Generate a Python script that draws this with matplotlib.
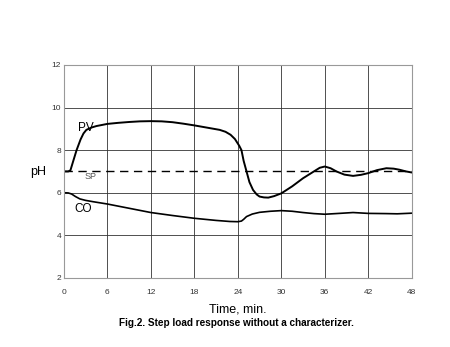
import matplotlib.pyplot as plt

plt.rcParams['font.family'] = ['Liberation Sans', 'DejaVu Sans']

# process variable (pH) vs time
pv_t = [0, 0.6, 0.9, 1.3, 1.75, 2.3, 2.7, 3.1, 3.8, 4.5, 6, 7.5, 9, 10.5, 12, 13.5, 15,
        16.5, 18, 19, 20, 21.5, 22.3, 23, 23.6, 24.2, 24.5, 24.8, 25.2, 25.6, 26.1,
        26.6, 27.0, 27.6, 28.2, 29, 30, 31.5, 33, 34.5, 35.3, 36, 36.8, 37.6, 38.7,
        39.9, 41, 42, 43.2, 44.5, 45.5, 46.3, 47.2, 48]
pv_ph = [7.0, 7.0, 7.05, 7.5, 8.0, 8.5, 8.78, 8.95, 9.06, 9.13, 9.23, 9.28, 9.32, 9.35,
         9.36, 9.35, 9.31, 9.24, 9.16, 9.1, 9.04, 8.95, 8.86, 8.72, 8.52, 8.2, 8.0, 7.5,
         7.0, 6.5, 6.13, 5.92, 5.82, 5.78, 5.77, 5.84, 5.97, 6.3, 6.68, 7.0, 7.17, 7.23,
         7.15, 7.0, 6.85, 6.79, 6.84, 6.92, 7.06, 7.15, 7.13, 7.08, 7.0, 6.95]

# controller output
co_t = [0, 0.6, 1.06, 1.6, 2.2, 3, 4, 6, 9, 12, 15, 18, 21, 22.9, 24.0, 24.5, 24.8,
        25.2, 26, 27, 28.5, 30, 31.5, 33, 34.5, 36, 38, 39.9, 42, 44.5, 46, 48]
co_val = [6.0, 5.99, 5.94, 5.82, 5.71, 5.64, 5.58, 5.47, 5.27, 5.07, 4.93, 4.8, 4.7,
          4.65, 4.64, 4.67, 4.75, 4.88, 5.0, 5.08, 5.13, 5.16, 5.13, 5.07, 5.02, 4.99,
          5.03, 5.07, 5.03, 5.02, 5.01, 5.04]

setpoint = 7.0
x_ticks = [0, 6, 12, 18, 24, 30, 36, 42, 48]
y_ticks = [2, 4, 6, 8, 10, 12]

fig = plt.figure(figsize=(4.5, 3.47), dpi=100)
ax = fig.add_axes([0.142, 0.199, 0.773, 0.614])

ax.plot(pv_t, pv_ph, color='black', lw=1.4)
ax.plot(co_t, co_val, color='black', lw=1.2)
ax.plot([0, 48], [setpoint, setpoint], color='black', lw=1.0, dashes=(6, 4))

ax.set_xlim(0, 48)
ax.set_ylim(2, 12)
ax.set_xticks(x_ticks)
ax.set_yticks(y_ticks)
ax.tick_params(length=0, labelsize=6, colors='#333333')
ax.tick_params(axis='x', pad=8)
ax.tick_params(axis='y', pad=2)
ax.grid(True, color='#333333', lw=0.6)
for s in ax.spines.values():
    s.set_color('#999999')
    s.set_linewidth(0.8)

ax.text(2.0, 9.05, 'PV', fontsize=8.5, ha='left', va='center')
ax.text(2.9, 6.74, 'SP', fontsize=6.5, color='#555555', ha='left', va='center')
ax.text(1.4, 5.22, 'CO', fontsize=8.5, ha='left', va='center')

fig.text(38 / 450, 1 - 172 / 347, 'pH', fontsize=9, ha='center', va='center')
ax.set_xlabel('Time, min.', fontsize=9, labelpad=5)
fig.text(0.5256, 0.068, 'Fig.2. Step load response without a characterizer.',
         fontsize=7.2, fontweight='bold', ha='center', va='center')

fig.savefig('out.png', dpi=100)
